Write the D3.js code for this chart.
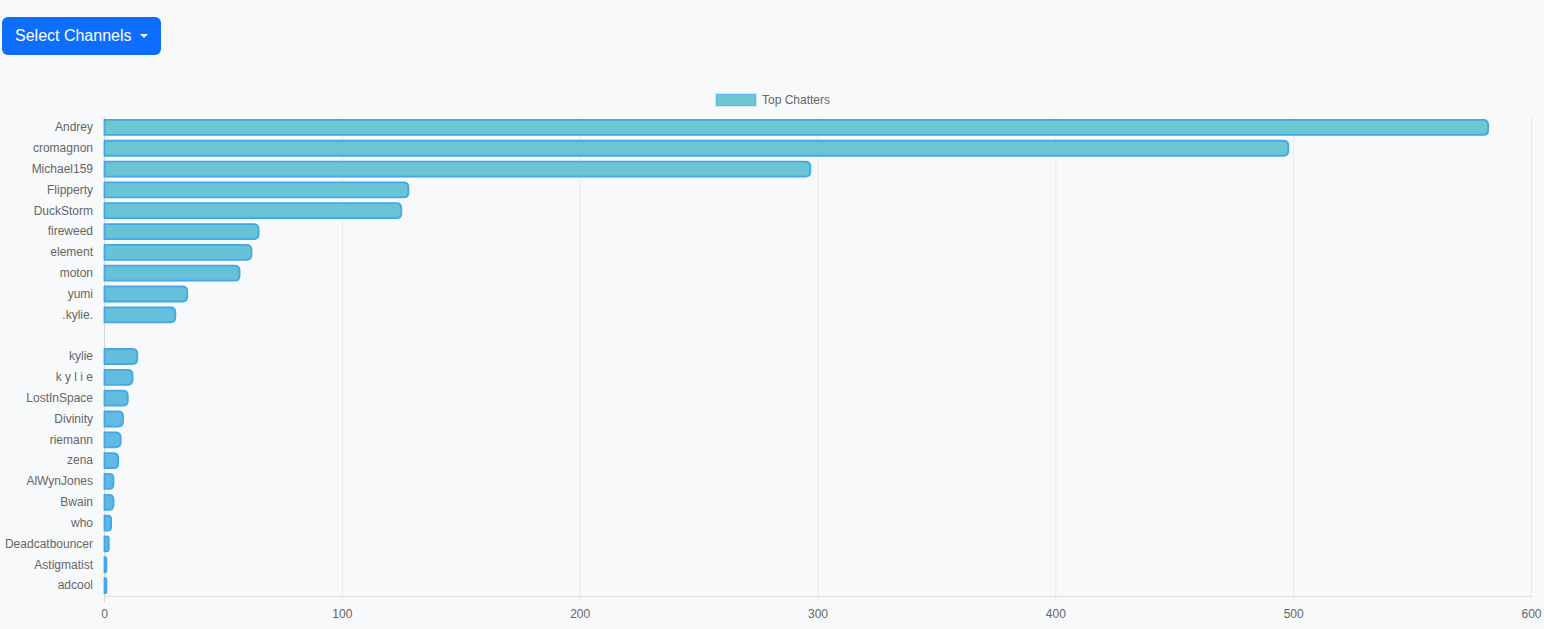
<!DOCTYPE html>
<html>
<head>
<meta charset="utf-8">
<script src="https://cdn.jsdelivr.net/npm/d3@7"></script>
<style>
  html, body { margin: 0; padding: 0; background: #f8f9fa; }
  body { width: 1544px; height: 629px; position: relative; overflow: hidden;
         font-family: "Liberation Sans", Arial, sans-serif; }
  .btn {
    position: absolute; left: 2px; top: 17px; width: 159px; height: 38px;
    box-sizing: border-box; background: #0d6efd; color: #fff; border-radius: 6px;
    font-size: 16px; line-height: 38px; padding-left: 13px;
  }
  .btn .caret {
    display: inline-block; margin-left: 8px; vertical-align: 3px;
    border-top: 4.8px solid #fff; border-left: 4.8px solid transparent; border-right: 4.8px solid transparent;
  }
  svg { position: absolute; left: 0; top: 0; }
</style>
</head>
<body>
<div class="btn">Select Channels<span class="caret"></span></div>
<svg id="chart"></svg>
<script>
const chatters = ['Andrey', 'cromagnon', 'Michael159', 'Flipperty', 'DuckStorm', 'fireweed', 'element',
  'moton', 'yumi', '.kylie.', '', 'kylie', 'k y l i e', 'LostInSpace', 'Divinity', 'riemann', 'zena',
  'AlWynJones', 'Bwain', 'who', 'Deadcatbouncer', 'Astigmatist', 'adcool']
const messages = [582, 498, 297, 128, 125, 65, 62, 57, 35, 30, 0, 14, 12, 10, 8, 7, 6, 4, 4, 3, 2, 1, 1]
const xTicks = [0, 100, 200, 300, 400, 500, 600]
const seriesName = 'Top Chatters'

const rows = chatters.map((name, i) => ({ name, value: messages[i] }))

const dimensions = { width: 1544, height: 629 }
const plot = { left: 104, right: 1531, top: 117, bottom: 596 }

const svg = d3.select('#chart')
  .attr('width', dimensions.width)
  .attr('height', dimensions.height)

// gradient across the whole plot, teal at top, blue at bottom
const defs = svg.append('defs')
const grad = defs.append('linearGradient')
  .attr('id', 'barFill')
  .attr('gradientUnits', 'userSpaceOnUse')
  .attr('x1', 0).attr('y1', plot.top).attr('x2', 0).attr('y2', plot.bottom)
grad.append('stop').attr('offset', '0%').attr('stop-color', '#6cc7d0')
grad.append('stop').attr('offset', '100%').attr('stop-color', '#5cb4ec')

// x scale
const x = d3.scaleLinear()
  .domain([0, 600])
  .range([plot.left, plot.right])

// y scale
const y = d3.scaleBand()
  .domain(chatters)
  .range([plot.top, plot.bottom])

// grid lines
svg.append('g')
  .selectAll('line')
  .data(xTicks)
  .join('line')
  .attr('x1', d => x(d) + 0.5).attr('x2', d => x(d) + 0.5)
  .attr('y1', plot.top).attr('y2', plot.bottom + 6)
  .attr('stroke', d => d === 0 ? '#d6d6d6' : '#e8e9ea')
  .attr('stroke-width', 1)

// x axis
const xAxis = svg.append('g')
  .attr('transform', `translate(0,${plot.bottom + 0.5})`)
  .call(d3.axisBottom(x).tickValues(xTicks).tickSize(0).tickPadding(13))
xAxis.select('.domain').attr('stroke', '#dcdcdc').attr('d', `M${plot.left},0H${plot.right}`)
xAxis.selectAll('text')
  .attr('fill', '#666').attr('font-size', 12)
  .attr('font-family', '"Liberation Sans", Arial, sans-serif')

// y axis
const yAxis = svg.append('g')
  .attr('transform', `translate(${plot.left},0)`)
  .call(d3.axisLeft(y).tickSize(0).tickPadding(11))
yAxis.select('.domain').remove()
yAxis.selectAll('text')
  .attr('fill', '#666').attr('font-size', 12)
  .attr('font-family', '"Liberation Sans", Arial, sans-serif')

// bars with rounded ends
const barH = y.bandwidth() * 0.72
const r = 5
function barPath(d) {
  const x0 = x(0) + 0.5
  const x1 = x(d.value)
  const y0 = y(d.name) + (y.bandwidth() - barH) / 2
  const rr = Math.min(r, (x1 - x0) / 2, barH / 2)
  return `M${x0},${y0}H${x1 - rr}Q${x1},${y0} ${x1},${y0 + rr}V${y0 + barH - rr}Q${x1},${y0 + barH} ${x1 - rr},${y0 + barH}H${x0}Z`
}
svg.append('g')
  .selectAll('path')
  .data(rows.filter(d => d.value > 0))
  .join('path')
  .attr('d', barPath)
  .attr('fill', 'url(#barFill)')
  .attr('stroke', '#42a8e6')
  .attr('stroke-width', 1.8)

// legend
const legend = svg.append('g').attr('transform', 'translate(716,94)')
legend.append('rect')
  .attr('x', 0.5).attr('y', 0.5).attr('width', 39).attr('height', 11)
  .attr('fill', '#6cc7d0').attr('stroke', '#5cb8e6').attr('stroke-width', 1.5)
legend.append('text')
  .attr('x', 46).attr('y', 10)
  .attr('fill', '#666').attr('font-size', 12)
  .attr('font-family', '"Liberation Sans", Arial, sans-serif')
  .text(seriesName)
</script>
</body>
</html>
